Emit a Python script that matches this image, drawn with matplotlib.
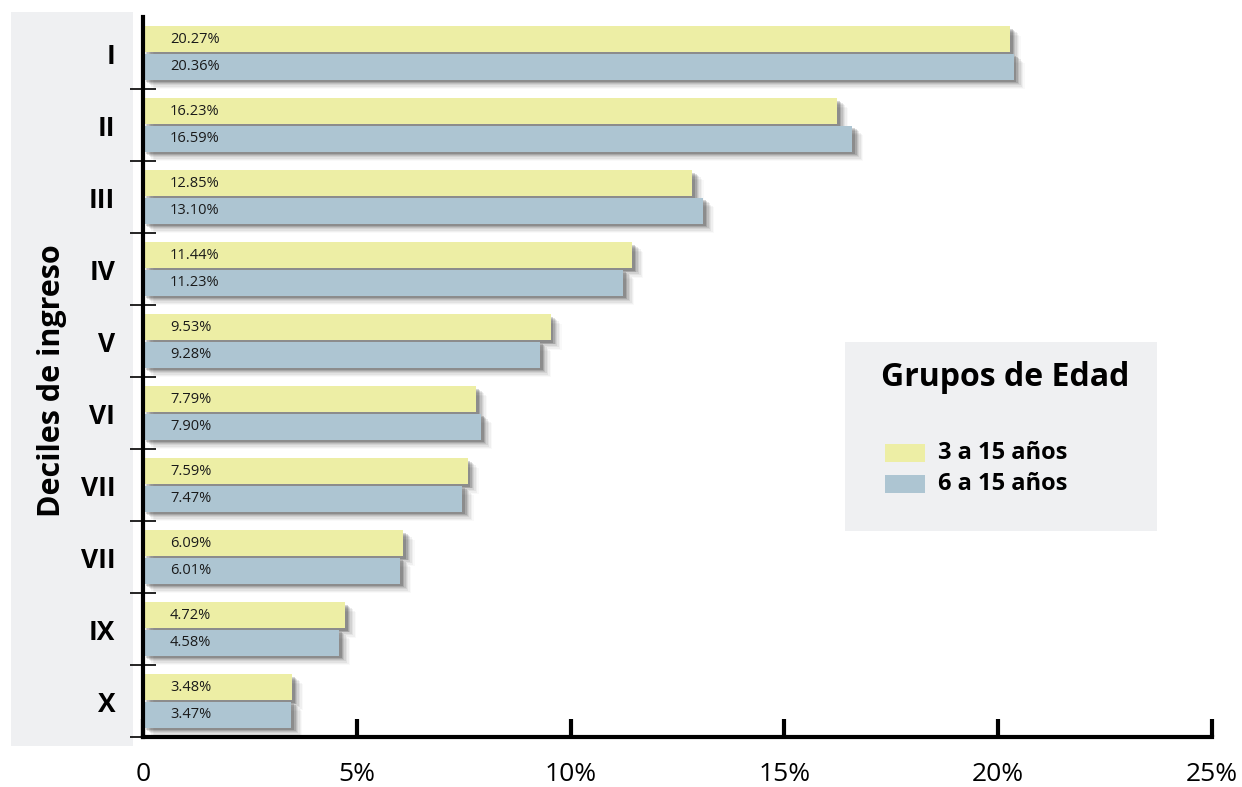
import matplotlib
matplotlib.use("Agg")
import matplotlib.pyplot as plt
import matplotlib.patheffects as pe
from matplotlib.patches import Rectangle
import numpy as np

plt.rcParams['font.family'] = ['Open Sans', 'DejaVu Sans']

deciles = ["I", "II", "III", "IV", "V", "VI", "VII", "VII", "IX", "X"]
series_names = ["3 a 15 años", "6 a 15 años"]
vals_3_15 = [20.27, 16.23, 12.85, 11.44, 9.53, 7.79, 7.59, 6.09, 4.72, 3.48]
vals_6_15 = [20.36, 16.59, 13.10, 11.23, 9.28, 7.90, 7.47, 6.01, 4.58, 3.47]
xticks = [0, 5, 10, 15, 20, 25]
xticklabels = ["0", "5%", "10%", "15%", "20%", "25%"]
colors = ["#edeea5", "#adc5d2"]

W, H = 1242, 787
fig = plt.figure(figsize=(W / 100, H / 100), dpi=100)
fig.patch.set_facecolor("white")

# gray panel behind y labels
fig.add_artist(Rectangle((11 / W, 1 - 746 / H), 122 / W, 734 / H,
                         transform=fig.transFigure, facecolor="#eff0f2",
                         edgecolor="none", zorder=0))

ax = fig.add_axes([143 / W, 1 - 737 / H, (1212 - 143) / W, 720 / H])
ax.set_facecolor("none")

y = np.arange(len(deciles))
h = 0.36
off = 0.19
shadow = [pe.SimplePatchShadow(offset=(8, -7), shadow_rgbFace="#000000", alpha=0.025),
          pe.SimplePatchShadow(offset=(7, -6), shadow_rgbFace="#000000", alpha=0.04),
          pe.SimplePatchShadow(offset=(6, -5), shadow_rgbFace="#000000", alpha=0.05),
          pe.SimplePatchShadow(offset=(5, -4), shadow_rgbFace="#000000", alpha=0.07),
          pe.SimplePatchShadow(offset=(4, -3), shadow_rgbFace="#000000", alpha=0.09),
          pe.SimplePatchShadow(offset=(3, -2.5), shadow_rgbFace="#000000", alpha=0.12),
          pe.SimplePatchShadow(offset=(2, -2), shadow_rgbFace="#000000", alpha=0.16),
          pe.Normal()]

b1 = ax.barh(y - off, vals_3_15, height=h, color=colors[0], zorder=2)
b2 = ax.barh(y + off, vals_6_15, height=h, color=colors[1], zorder=3)
for b in list(b1) + list(b2):
    b.set_path_effects(shadow)

for yy, v in zip(y - off, vals_3_15):
    ax.annotate(f"{v:.2f}%", xy=(0, yy), xytext=(19.5, 0), textcoords="offset points",
                va="center", ha="left", fontsize=10.5, color="#1a1a1a", zorder=5)
for yy, v in zip(y + off, vals_6_15):
    ax.annotate(f"{v:.2f}%", xy=(0, yy), xytext=(19.5, 0), textcoords="offset points",
                va="center", ha="left", fontsize=10.5, color="#1a1a1a", zorder=5)

ax.set_xlim(0, 25)
ax.set_ylim(len(deciles) - 0.5, -0.5)

ax.set_xticks(xticks)
ax.set_xticklabels(xticklabels, fontsize=19)
ax.tick_params(axis="x", direction="in", length=13, width=3, pad=18, color="black")

ax.set_yticks(y)
ax.set_yticklabels(deciles, fontsize=19, fontweight="bold")
ax.tick_params(axis="y", which="major", length=0, pad=20)
ax.set_yticks(np.arange(len(deciles)) + 0.5, minor=True)
ax.tick_params(axis="y", which="minor", direction="inout", length=19, width=1.2, color="black")

for s in ["top", "right"]:
    ax.spines[s].set_visible(False)
ax.spines["left"].set_linewidth(3)
ax.spines["bottom"].set_linewidth(3)
ax.spines["left"].set_zorder(6)
ax.spines["bottom"].set_zorder(6)

fig.text(52 / W, 1 - 381 / H, "Deciles de ingreso", rotation=90, ha="center", va="center",
         fontsize=22, fontweight="bold")

# legend box
fig.add_artist(Rectangle((845 / W, 1 - 531 / H), 312 / W, 189 / H,
                         transform=fig.transFigure, facecolor="#eff0f2",
                         edgecolor="none", zorder=7))
fig.text(1005 / W, 1 - 378 / H, "Grupos de Edad", ha="center", va="center",
         fontsize=23, fontweight="bold", zorder=8)
for i, (name, c) in enumerate(zip(series_names, colors)):
    ty = 453 + i * 31
    fig.add_artist(Rectangle((885 / W, 1 - (ty + 9) / H), 40 / W, 18 / H,
                             transform=fig.transFigure, facecolor=c,
                             edgecolor="none", zorder=8))
    fig.text(938 / W, 1 - ty / H, name, ha="left", va="center",
             fontsize=17, fontweight="bold", zorder=8)

fig.savefig("out.png", dpi=100)
